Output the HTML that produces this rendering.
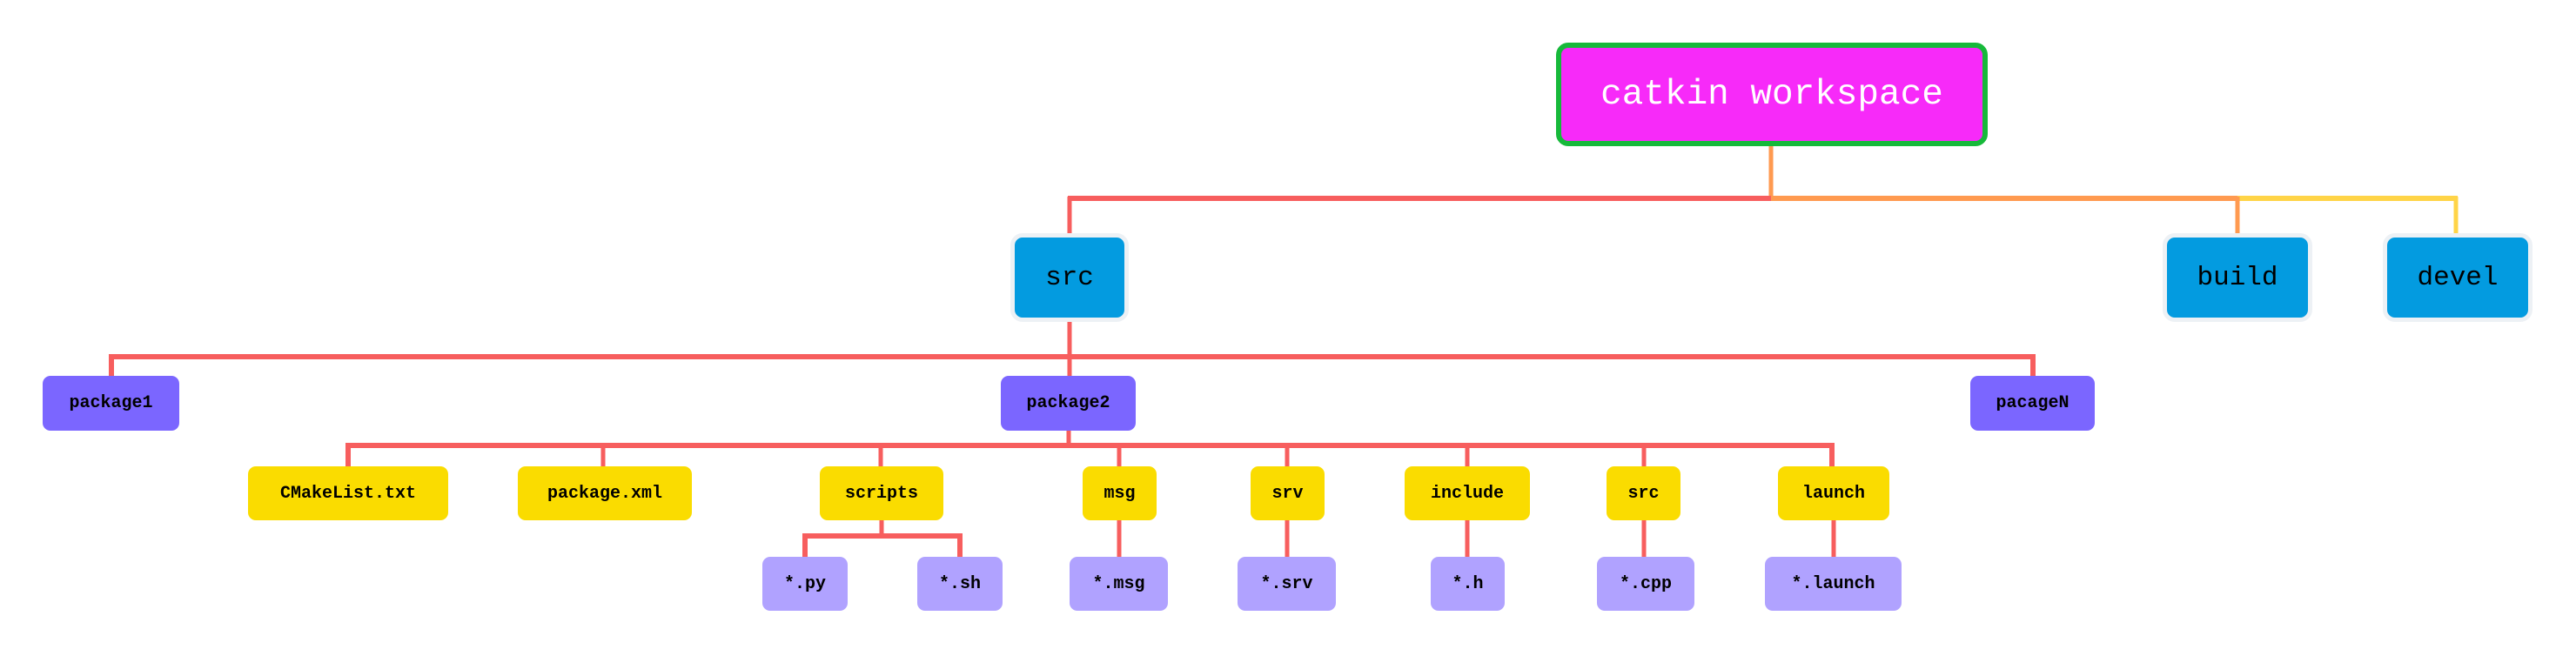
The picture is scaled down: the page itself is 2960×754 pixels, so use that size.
<!DOCTYPE html>
<html><head><meta charset="utf-8"><style>
html,body{margin:0;padding:0;background:#fff;}
body{width:2960px;height:754px;position:relative;overflow:hidden;font-family:"Liberation Mono",monospace;}
.n{position:absolute;box-sizing:border-box;display:flex;align-items:center;justify-content:center;color:#000;font-size:20px;font-weight:bold;border-radius:9px;white-space:nowrap;}
.p{background:#7b66ff;}
.y{background:#fadc00;}
.l{background:#b0a2ff;}
.b{background:#039be0;border:5px solid #edf1f5;border-radius:14px;font-size:31px;font-weight:normal;}
svg{position:absolute;left:0;top:0;}
</style></head><body>
<svg width="2960" height="754">
<g fill="none" stroke-width="5">
<line x1="2035" y1="168" x2="2035" y2="228" stroke="#ff9a50"/>
<line x1="1227" y1="228" x2="2035" y2="228" stroke="#f75e5e" stroke-width="6"/>
<line x1="2035" y1="228" x2="2571" y2="228" stroke="#ff9a50" stroke-width="6"/>
<line x1="2571" y1="228" x2="2824" y2="228" stroke="#ffd447" stroke-width="6"/>
<line x1="1229" y1="226" x2="1229" y2="270" stroke="#f75e5e"/>
<line x1="2571" y1="226" x2="2571" y2="270" stroke="#ff9a50"/>
<line x1="2822" y1="226" x2="2822" y2="270" stroke="#ffd447"/>
<g stroke="#f75e5e">
<line x1="1229" y1="368" x2="1229" y2="432"/>
<polyline points="128,432 128,410 2336,410 2336,432" stroke-width="6"/>
<line x1="1228" y1="495" x2="1228" y2="512"/>
<polyline points="400,536 400,512 2105,512 2105,536" stroke-width="6"/>
<line x1="693" y1="512" x2="693" y2="536"/>
<line x1="1012" y1="512" x2="1012" y2="536"/>
<line x1="1286" y1="512" x2="1286" y2="640"/>
<line x1="1479" y1="512" x2="1479" y2="640"/>
<line x1="1686" y1="512" x2="1686" y2="640"/>
<line x1="1889" y1="512" x2="1889" y2="640"/>
<line x1="2107" y1="598" x2="2107" y2="640"/>
<line x1="1013" y1="598" x2="1013" y2="616"/>
<polyline points="925,640 925,616 1103,616 1103,640" stroke-width="6"/>
</g></g></svg>

<div class="n" style="left:1788px;top:49px;width:496px;height:119px;background:#f72af9;border:6px solid #16b93a;border-radius:14px;color:#fff;font-size:41px;font-weight:normal;">catkin workspace</div>

<div class="n b" style="left:1161px;top:268px;width:136px;height:102px;">src</div>
<div class="n b" style="left:2485px;top:268px;width:172px;height:102px;">build</div>
<div class="n b" style="left:2738px;top:268px;width:172px;height:102px;">devel</div>

<div class="n p" style="left:49px;top:432px;width:157px;height:63px;">package1</div>
<div class="n p" style="left:1150px;top:432px;width:155px;height:63px;">package2</div>
<div class="n p" style="left:2264px;top:432px;width:143px;height:63px;">pacageN</div>

<div class="n y" style="left:285px;top:536px;width:230px;height:62px;">CMakeList.txt</div>
<div class="n y" style="left:595px;top:536px;width:200px;height:62px;">package.xml</div>
<div class="n y" style="left:942px;top:536px;width:142px;height:62px;">scripts</div>
<div class="n y" style="left:1244px;top:536px;width:85px;height:62px;">msg</div>
<div class="n y" style="left:1437px;top:536px;width:85px;height:62px;">srv</div>
<div class="n y" style="left:1614px;top:536px;width:144px;height:62px;">include</div>
<div class="n y" style="left:1846px;top:536px;width:85px;height:62px;">src</div>
<div class="n y" style="left:2043px;top:536px;width:128px;height:62px;">launch</div>

<div class="n l" style="left:876px;top:640px;width:98px;height:62px;">*.py</div>
<div class="n l" style="left:1054px;top:640px;width:98px;height:62px;">*.sh</div>
<div class="n l" style="left:1229px;top:640px;width:113px;height:62px;">*.msg</div>
<div class="n l" style="left:1422px;top:640px;width:113px;height:62px;">*.srv</div>
<div class="n l" style="left:1644px;top:640px;width:85px;height:62px;">*.h</div>
<div class="n l" style="left:1835px;top:640px;width:112px;height:62px;">*.cpp</div>
<div class="n l" style="left:2028px;top:640px;width:157px;height:62px;">*.launch</div>
</body></html>
